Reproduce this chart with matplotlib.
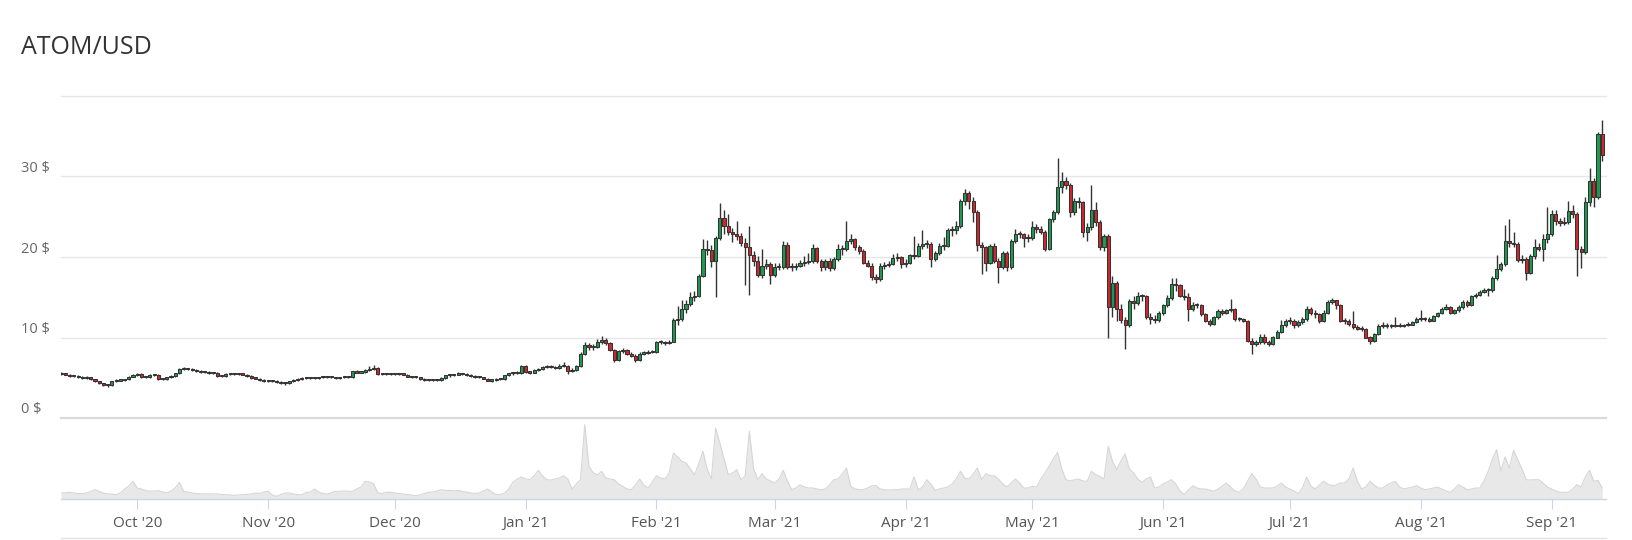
import numpy as np
import pandas as pd
import matplotlib
matplotlib.use("Agg")
import matplotlib.pyplot as plt
import matplotlib.dates as mdates
from matplotlib import transforms
from matplotlib.lines import Line2D

# ---------------- data ----------------
START_DATE = "2020-09-13"

opens = [
    5.60, 5.50, 5.40, 5.20, 5.25, 5.10, 5.00, 5.05, 4.80, 4.55,
    4.30, 4.10, 4.05, 4.55, 4.65, 4.70, 4.80, 5.15, 5.30, 5.50,
    5.10, 5.05, 5.30, 5.35, 4.80, 4.85, 5.05, 5.20, 5.55, 6.10,
    6.15, 6.05, 6.00, 5.85, 5.75, 5.70, 5.60, 5.65, 5.25, 5.20,
    5.45, 5.50, 5.55, 5.45, 5.40, 5.20, 5.00, 4.90, 4.70, 4.60,
    4.65, 4.60, 4.45, 4.35, 4.30, 4.55, 4.75, 4.80, 4.95, 5.00,
    5.05, 5.00, 5.05, 5.10, 5.05, 5.05, 5.00, 5.05, 5.10, 5.05,
    5.80, 5.65, 5.70, 6.00, 6.10, 6.15, 5.50, 5.45, 5.50, 5.45,
    5.55, 5.50, 5.40, 5.15, 5.10, 5.05, 4.85, 4.75, 4.75, 4.70,
    4.75, 5.00, 5.30, 5.30, 5.40, 5.50, 5.45, 5.35, 5.20, 5.10,
    5.05, 4.90, 4.65, 4.70, 4.85, 4.80, 5.30, 5.55, 5.60, 5.65,
    6.50, 5.70, 5.65, 5.95, 6.05, 6.30, 6.45, 6.30, 6.20, 6.45,
    6.50, 5.85, 6.00, 6.40, 8.00, 9.05, 8.80, 8.85, 9.50, 9.70,
    9.30, 8.45, 7.20, 8.30, 8.45, 8.00, 7.70, 7.20, 8.00, 8.10,
    8.20, 8.25, 9.45, 9.40, 9.30, 9.50, 12.15, 12.30, 13.60, 14.20,
    15.00, 15.10, 17.70, 21.00, 20.90, 19.50, 22.40, 24.90, 23.90, 23.10,
    22.80, 22.60, 21.70, 21.20, 20.20, 19.50, 17.80, 18.90, 19.10, 17.80,
    18.70, 18.80, 21.50, 18.80, 18.70, 18.90, 19.30, 19.40, 19.50, 21.10,
    19.50, 18.70, 19.50, 18.60, 19.75, 21.00, 21.00, 22.00, 22.20, 21.20,
    20.80, 19.30, 18.90, 17.50, 17.30, 18.90, 19.00, 19.10, 19.90, 20.00,
    19.10, 19.30, 20.20, 20.10, 21.40, 21.60, 21.60, 19.70, 20.50, 21.40,
    21.40, 23.30, 23.30, 23.90, 27.00, 27.90, 27.00, 25.60, 21.50, 21.20,
    19.30, 21.40, 19.50, 18.70, 20.50, 18.70, 22.00, 22.90, 22.90, 22.30,
    22.40, 23.70, 23.50, 23.05, 21.00, 24.70, 25.60, 28.70, 29.50, 28.90,
    25.60, 27.00, 26.80, 23.05, 23.70, 25.80, 24.30, 21.20, 22.60, 13.85,
    16.80, 13.60, 12.20, 11.50, 14.50, 14.30, 15.20, 15.10, 12.60, 12.30,
    12.20, 13.00, 14.00, 14.90, 16.70, 16.50, 15.20, 15.00, 13.50, 14.00,
    14.00, 12.90, 12.10, 11.70, 12.50, 13.30, 13.10, 13.40, 13.50, 12.30,
    12.30, 12.10, 9.60, 9.20, 9.40, 10.10, 9.40, 9.25, 10.00, 10.70,
    11.50, 12.00, 12.00, 11.50, 11.90, 12.30, 13.50, 13.10, 12.90, 12.10,
    13.10, 14.40, 14.60, 14.00, 12.10, 12.00, 11.70, 11.25, 11.10, 11.10,
    10.00, 9.60, 10.40, 11.40, 11.40, 11.40, 11.45, 11.50, 11.45, 11.50,
    11.60, 11.90, 12.35, 12.30, 12.35, 12.10, 12.65, 13.00, 13.60, 13.80,
    13.10, 13.40, 13.80, 14.45, 14.00, 15.10, 15.30, 15.70, 15.90, 15.90,
    17.40, 18.45, 19.10, 22.00, 21.80, 21.60, 19.60, 19.70, 18.00, 20.10,
    21.20, 21.00, 22.20, 22.90, 25.40, 24.50, 24.20, 24.40, 25.70, 25.30,
    21.00, 20.60, 26.80, 29.40, 27.50, 35.30,
]

highs = [
    5.70, 5.60, 5.50, 5.40, 5.35, 5.20, 5.20, 5.15, 4.90, 4.65,
    4.40, 4.25, 4.65, 4.80, 4.85, 4.90, 5.25, 5.45, 5.65, 5.60,
    5.20, 5.45, 5.50, 5.45, 4.95, 5.15, 5.30, 5.65, 6.20, 6.30,
    6.25, 6.15, 6.10, 5.95, 5.85, 5.80, 5.75, 5.75, 5.35, 5.55,
    5.60, 5.65, 5.65, 5.55, 5.50, 5.30, 5.10, 5.00, 4.80, 4.75,
    4.75, 4.70, 4.55, 4.45, 4.65, 4.85, 4.95, 5.05, 5.10, 5.15,
    5.15, 5.15, 5.20, 5.20, 5.15, 5.15, 5.15, 5.25, 5.20, 5.90,
    5.95, 5.80, 6.10, 6.40, 6.55, 6.30, 5.60, 5.60, 5.60, 5.65,
    5.65, 5.60, 5.50, 5.25, 5.20, 5.15, 4.95, 4.85, 4.85, 4.85,
    5.10, 5.40, 5.45, 5.50, 5.75, 5.60, 5.55, 5.45, 5.30, 5.20,
    5.15, 5.00, 4.80, 4.95, 4.95, 5.40, 5.65, 5.75, 5.80, 6.60,
    6.60, 5.85, 6.05, 6.20, 6.45, 6.60, 6.60, 6.45, 6.65, 6.90,
    6.60, 6.15, 6.55, 8.20, 9.40, 9.30, 9.20, 9.80, 10.20, 9.90,
    9.45, 8.60, 8.50, 8.70, 8.60, 8.20, 7.90, 8.20, 8.30, 8.40,
    8.40, 9.60, 9.70, 9.60, 9.75, 12.40, 13.90, 14.60, 14.70, 15.60,
    15.80, 17.90, 22.20, 22.10, 21.50, 22.60, 26.70, 25.90, 25.40, 23.60,
    24.50, 23.00, 22.30, 23.80, 20.80, 20.10, 21.00, 19.80, 19.40, 19.20,
    19.20, 22.00, 21.90, 19.20, 19.30, 19.60, 20.10, 20.50, 21.60, 21.30,
    19.80, 19.80, 19.90, 20.00, 21.60, 21.50, 24.50, 22.80, 22.40, 21.50,
    21.00, 19.60, 19.30, 17.90, 19.20, 19.40, 19.50, 20.40, 20.50, 20.10,
    19.70, 20.40, 22.60, 21.70, 23.30, 22.10, 21.90, 20.70, 21.70, 22.50,
    23.60, 23.80, 24.50, 27.20, 28.50, 28.20, 27.50, 25.80, 21.90, 21.40,
    21.60, 21.70, 19.90, 20.70, 20.70, 22.20, 23.50, 23.20, 23.00, 22.90,
    24.50, 24.10, 23.80, 23.30, 24.90, 25.90, 32.30, 30.60, 29.90, 29.20,
    27.30, 27.40, 27.00, 24.20, 28.90, 26.80, 24.60, 22.90, 22.80, 17.60,
    17.00, 14.20, 12.50, 14.80, 15.10, 15.60, 15.40, 15.30, 13.00, 12.80,
    13.30, 14.20, 15.30, 17.40, 17.40, 16.70, 16.00, 15.50, 14.40, 14.30,
    14.20, 13.10, 12.30, 12.70, 13.50, 13.60, 13.60, 14.80, 13.70, 12.50,
    12.40, 12.20, 10.00, 9.70, 10.40, 10.40, 9.70, 10.20, 10.90, 12.20,
    12.30, 12.50, 12.30, 12.20, 12.50, 13.90, 13.80, 13.40, 13.10, 13.40,
    14.60, 14.90, 14.70, 14.20, 12.40, 12.30, 13.30, 11.50, 11.40, 11.20,
    10.20, 10.60, 11.70, 11.90, 11.80, 11.70, 12.60, 11.80, 11.70, 11.90,
    12.00, 12.50, 13.40, 12.60, 12.50, 12.80, 13.20, 13.80, 14.10, 13.90,
    13.60, 14.00, 14.60, 14.60, 15.30, 15.50, 15.90, 16.10, 16.20, 17.60,
    20.30, 19.40, 24.00, 24.70, 23.10, 21.90, 20.20, 20.00, 20.40, 22.20,
    21.80, 22.80, 26.20, 25.80, 25.80, 24.80, 25.00, 27.00, 26.50, 25.60,
    21.40, 27.50, 31.00, 29.80, 35.50, 37.00,
]

lows = [
    5.40, 5.30, 5.10, 5.10, 5.00, 4.90, 4.90, 4.70, 4.45, 4.20,
    4.00, 3.90, 4.00, 4.45, 4.55, 4.60, 4.75, 5.05, 5.20, 5.00,
    4.95, 4.95, 5.20, 4.70, 4.70, 4.75, 4.95, 5.10, 5.45, 5.95,
    5.95, 5.90, 5.75, 5.65, 5.60, 5.50, 5.50, 5.15, 5.10, 5.10,
    5.35, 5.40, 5.35, 5.30, 5.10, 4.90, 4.80, 4.60, 4.50, 4.50,
    4.50, 4.35, 4.25, 4.15, 4.25, 4.45, 4.65, 4.70, 4.85, 4.90,
    4.90, 4.90, 4.95, 4.95, 4.95, 4.90, 4.90, 4.95, 4.95, 5.00,
    5.55, 5.55, 5.60, 5.90, 5.95, 5.35, 5.35, 5.35, 5.35, 5.35,
    5.40, 5.30, 5.05, 5.00, 4.95, 4.75, 4.65, 4.65, 4.60, 4.60,
    4.65, 4.90, 5.15, 5.20, 5.30, 5.35, 5.25, 5.10, 5.00, 4.95,
    4.80, 4.55, 4.50, 4.60, 4.70, 4.70, 5.20, 5.40, 5.45, 5.50,
    5.60, 5.50, 5.55, 5.85, 5.95, 6.15, 6.15, 6.05, 6.10, 6.30,
    5.50, 5.75, 5.90, 6.30, 7.80, 8.40, 8.50, 8.70, 9.20, 9.10,
    8.30, 7.00, 7.10, 8.10, 7.80, 7.55, 7.00, 7.10, 7.85, 7.95,
    8.05, 8.10, 9.20, 9.10, 9.15, 9.40, 11.60, 12.00, 13.10, 13.90,
    14.50, 15.00, 17.50, 20.20, 18.80, 15.00, 22.10, 22.90, 22.70, 21.90,
    22.10, 21.40, 16.50, 15.30, 18.90, 17.50, 17.40, 18.50, 16.70, 17.50,
    18.40, 18.50, 18.50, 18.30, 18.40, 18.70, 18.90, 19.10, 19.30, 19.20,
    18.30, 18.40, 18.20, 18.40, 19.50, 20.30, 20.80, 21.60, 20.90, 20.40,
    19.10, 18.70, 17.20, 16.80, 17.00, 18.50, 18.70, 19.00, 19.50, 18.60,
    18.80, 19.10, 19.80, 20.00, 21.00, 21.10, 18.70, 19.50, 20.30, 20.90,
    21.20, 22.60, 22.80, 23.60, 26.50, 26.00, 24.40, 20.70, 17.90, 18.20,
    19.10, 19.20, 16.80, 18.50, 18.20, 18.50, 21.80, 22.30, 21.30, 21.90,
    22.10, 23.00, 22.80, 20.80, 20.90, 24.40, 25.40, 28.00, 28.50, 25.00,
    25.20, 26.10, 22.50, 22.00, 23.30, 23.90, 20.90, 20.80, 9.90, 12.50,
    12.00, 11.80, 8.60, 11.30, 13.60, 14.00, 14.50, 12.30, 11.70, 11.80,
    11.90, 12.80, 13.80, 14.70, 15.80, 15.00, 14.70, 12.10, 13.30, 13.70,
    12.70, 11.90, 11.40, 11.50, 12.30, 12.80, 12.90, 13.20, 12.10, 12.00,
    11.90, 9.40, 8.00, 8.90, 9.20, 9.20, 8.90, 9.10, 9.90, 10.50,
    11.30, 11.70, 11.20, 11.30, 11.70, 12.10, 12.80, 12.40, 11.80, 11.90,
    12.90, 14.10, 13.60, 11.90, 11.70, 11.40, 11.00, 10.90, 10.80, 9.90,
    9.20, 9.40, 10.30, 11.20, 11.20, 11.20, 11.30, 11.30, 11.30, 11.40,
    11.50, 11.80, 12.10, 12.10, 11.90, 12.00, 12.50, 12.90, 13.40, 12.90,
    12.90, 13.20, 13.60, 13.80, 13.90, 14.90, 15.10, 15.50, 15.10, 15.60,
    17.20, 18.20, 18.90, 21.30, 21.20, 19.40, 19.20, 17.20, 17.90, 19.80,
    20.80, 19.50, 21.80, 22.60, 24.00, 23.80, 24.00, 24.10, 24.90, 17.60,
    18.65, 20.40, 26.30, 26.20, 27.20, 31.90,
]

closes = [
    5.50, 5.40, 5.20, 5.25, 5.10, 5.00, 5.05, 4.80, 4.55, 4.30,
    4.10, 4.05, 4.55, 4.65, 4.70, 4.80, 5.15, 5.30, 5.50, 5.10,
    5.05, 5.30, 5.35, 4.80, 4.85, 5.05, 5.20, 5.55, 6.10, 6.15,
    6.05, 6.00, 5.85, 5.75, 5.70, 5.60, 5.65, 5.25, 5.20, 5.45,
    5.50, 5.55, 5.45, 5.40, 5.20, 5.00, 4.90, 4.70, 4.60, 4.65,
    4.60, 4.45, 4.35, 4.30, 4.55, 4.75, 4.80, 4.95, 5.00, 5.05,
    5.00, 5.05, 5.10, 5.05, 5.05, 5.00, 5.05, 5.10, 5.05, 5.80,
    5.65, 5.70, 6.00, 6.10, 6.15, 5.50, 5.45, 5.50, 5.45, 5.55,
    5.50, 5.40, 5.15, 5.10, 5.05, 4.85, 4.75, 4.75, 4.70, 4.75,
    5.00, 5.30, 5.30, 5.40, 5.50, 5.45, 5.35, 5.20, 5.10, 5.05,
    4.90, 4.65, 4.70, 4.85, 4.80, 5.30, 5.55, 5.60, 5.65, 6.50,
    5.70, 5.65, 5.95, 6.05, 6.30, 6.45, 6.30, 6.20, 6.45, 6.50,
    5.85, 6.00, 6.40, 8.00, 9.05, 8.80, 8.85, 9.50, 9.70, 9.30,
    8.45, 7.20, 8.30, 8.45, 8.00, 7.70, 7.20, 8.00, 8.10, 8.20,
    8.25, 9.45, 9.40, 9.30, 9.50, 12.15, 12.30, 13.60, 14.20, 15.00,
    15.10, 17.70, 21.00, 20.90, 19.50, 22.40, 24.90, 23.90, 23.10, 22.80,
    22.60, 21.70, 21.20, 20.20, 19.50, 17.80, 18.90, 19.10, 17.80, 18.70,
    18.80, 21.50, 18.80, 18.70, 18.90, 19.30, 19.40, 19.50, 21.10, 19.50,
    18.70, 19.50, 18.60, 19.75, 21.00, 21.00, 22.00, 22.20, 21.20, 20.80,
    19.30, 18.90, 17.50, 17.30, 18.90, 19.00, 19.10, 19.90, 20.00, 19.10,
    19.30, 20.20, 20.10, 21.40, 21.60, 21.60, 19.70, 20.50, 21.40, 21.40,
    23.30, 23.30, 23.90, 27.00, 27.90, 27.00, 25.60, 21.50, 21.20, 19.30,
    21.40, 19.50, 18.70, 20.50, 18.70, 22.00, 22.90, 22.90, 22.30, 22.40,
    23.70, 23.50, 23.05, 21.00, 24.70, 25.60, 28.70, 29.50, 28.90, 25.60,
    27.00, 26.80, 23.05, 23.70, 25.80, 24.30, 21.20, 22.60, 13.85, 16.80,
    13.60, 12.20, 11.50, 14.50, 14.30, 15.20, 15.10, 12.60, 12.30, 12.20,
    13.00, 14.00, 14.90, 16.70, 16.50, 15.20, 15.00, 13.50, 14.00, 14.00,
    12.90, 12.10, 11.70, 12.50, 13.30, 13.10, 13.40, 13.50, 12.30, 12.30,
    12.10, 9.60, 9.20, 9.40, 10.10, 9.40, 9.25, 10.00, 10.70, 11.50,
    12.00, 12.00, 11.50, 11.90, 12.30, 13.50, 13.10, 12.90, 12.10, 13.10,
    14.40, 14.60, 14.00, 12.10, 12.00, 11.70, 11.25, 11.10, 11.10, 10.00,
    9.60, 10.40, 11.40, 11.40, 11.40, 11.45, 11.50, 11.45, 11.50, 11.60,
    11.90, 12.35, 12.30, 12.35, 12.10, 12.65, 13.00, 13.60, 13.80, 13.10,
    13.40, 13.80, 14.45, 14.00, 15.10, 15.30, 15.70, 15.90, 15.90, 17.40,
    18.45, 19.10, 22.00, 21.80, 21.60, 19.60, 19.70, 18.00, 20.10, 21.20,
    21.00, 22.20, 22.90, 25.40, 24.50, 24.20, 24.40, 25.70, 25.30, 21.00,
    20.60, 26.80, 29.40, 27.50, 35.30, 32.70,
]

# traded volume (relative units)
volumes = [
    60, 62, 67, 60, 55, 53, 60, 75, 93, 75,
    60, 52, 48, 43, 60, 100, 130, 177, 110, 100,
    85, 77, 80, 83, 70, 60, 80, 110, 167, 77,
    70, 60, 55, 53, 50, 52, 50, 50, 45, 42,
    40, 37, 40, 43, 45, 50, 60, 55, 70, 77,
    40, 27, 45, 60, 60, 50, 43, 43, 65, 70,
    100, 70, 55, 50, 65, 77, 77, 80, 77, 77,
    100, 120, 177, 170, 153, 60, 55, 67, 67, 60,
    55, 50, 45, 40, 33, 40, 55, 67, 70, 80,
    93, 85, 87, 80, 87, 75, 70, 60, 55, 60,
    80, 100, 70, 43, 45, 60, 100, 167, 200, 220,
    200, 193, 230, 287, 230, 193, 190, 200, 210, 233,
    200, 100, 150, 193, 743, 327, 260, 240, 277, 210,
    200, 193, 150, 127, 100, 93, 140, 200, 140, 110,
    170, 233, 210, 200, 260, 460, 420, 377, 360, 300,
    243, 350, 477, 300, 200, 710, 560, 400, 243, 260,
    293, 193, 230, 677, 300, 193, 253, 200, 180, 160,
    200, 287, 180, 93, 110, 143, 120, 110, 110, 100,
    93, 100, 140, 193, 200, 250, 310, 127, 100, 93,
    93, 110, 133, 133, 100, 93, 90, 93, 93, 100,
    100, 100, 220, 93, 120, 193, 150, 87, 100, 110,
    120, 150, 200, 277, 210, 200, 250, 310, 193, 253,
    233, 233, 200, 150, 120, 160, 200, 160, 110, 110,
    127, 120, 200, 260, 330, 400, 467, 300, 193, 180,
    193, 200, 180, 177, 277, 243, 227, 200, 527, 377,
    293, 380, 453, 300, 260, 200, 167, 200, 220, 110,
    120, 150, 170, 193, 150, 80, 43, 90, 133, 110,
    100, 100, 90, 77, 100, 130, 160, 120, 80, 67,
    100, 180, 253, 200, 120, 110, 110, 110, 130, 160,
    120, 100, 80, 53, 110, 220, 130, 100, 140, 177,
    150, 133, 140, 160, 160, 200, 310, 180, 100, 120,
    177, 140, 110, 110, 140, 160, 177, 120, 100, 110,
    120, 133, 110, 93, 100, 110, 120, 100, 80, 67,
    100, 143, 120, 93, 100, 110, 110, 180, 277, 400,
    493, 277, 420, 310, 487, 393, 300, 193, 190, 193,
    193, 160, 120, 100, 80, 67, 67, 67, 100, 143,
    120, 220, 287, 177, 187, 110,
]

price_ticks = [0, 10, 20, 30, 40]
price_labels = ["0 $", "10 $", "20 $", "30 $", ""]
month_ticks = ["2020-10-01", "2020-11-01", "2020-12-01", "2021-01-01",
               "2021-02-01", "2021-03-01", "2021-04-01", "2021-05-01",
               "2021-06-01", "2021-07-01", "2021-08-01", "2021-09-01"]
month_labels = ["Oct '20", "Nov '20", "Dec '20", "Jan '21", "Feb '21", "Mar '21",
                "Apr '21", "May '21", "Jun '21", "Jul '21", "Aug '21", "Sep '21"]
title = "ATOM/USD"

# ---------------- figure ----------------
plt.rcParams["font.family"] = ["Open Sans", "DejaVu Sans"]
W, H = 1632, 540
fig = plt.figure(figsize=(W / 100, H / 100), dpi=100)
fig.patch.set_facecolor("white")

def fx(px):
    return px / W

def fy(py):
    return 1 - py / H

L, R = 61, 1606
P_TOP, P_BOT = 96, 418
V_TOP, V_BOT = 419, 499

ax = fig.add_axes([fx(L), fy(P_BOT), (R - L) / W, (P_BOT - P_TOP) / H])
axv = fig.add_axes([fx(L), fy(V_BOT), (R - L) / W, (V_BOT - V_TOP) / H])

dates = mdates.date2num(pd.date_range(START_DATE, periods=len(closes), freq="D"))
o = np.array(opens); h = np.array(highs); l = np.array(lows); c = np.array(closes)
v = np.array(volumes)

xlim = (dates[0] - 0.05, dates[-1] + 0.9)

# price pane
for t in price_ticks:
    if t == 0:
        ax.axhline(t, color="#dadada", lw=1.6, zorder=0, clip_on=False)
    else:
        ax.axhline(t, color="#e6e6e6", lw=1.0, zorder=0, clip_on=False)

up = c >= o
colors = np.where(up, "#1e9b4f", "#d4262b")
ax.vlines(dates, l, h, color="#333333", lw=1.0, zorder=2)
body_bottom = np.minimum(o, c)
body_height = np.maximum(np.abs(c - o), 0.14)
ax.bar(dates, body_height, bottom=body_bottom, width=0.74, color=colors,
       edgecolor="#333333", linewidth=0.75, zorder=3)

ax.set_xlim(*xlim)
ax.set_ylim(0, 40)
ax.axis("off")

# y labels: left, just above each gridline
trans = transforms.blended_transform_factory(fig.transFigure, ax.transData)
trans = transforms.offset_copy(trans, fig=fig, x=0, y=8, units="dots")
for t, lab in zip(price_ticks, price_labels):
    if lab:
        ax.text(fx(21), t, lab, transform=trans, ha="left", va="center",
                fontsize=10.5, color="#666666", clip_on=False)

# volume pane
axv.fill_between(dates, v, 0, color="#e8e8e8", lw=0, zorder=1)
axv.plot(dates, v, color="#d6d6d6", lw=0.8, zorder=2)
axv.set_xlim(*xlim)
axv.set_ylim(0, 800)
for s in ["top", "left", "right"]:
    axv.spines[s].set_visible(False)
axv.spines["bottom"].set_color("#ccd6eb")
axv.spines["bottom"].set_linewidth(1.0)
axv.set_yticks([])
axv.set_xticks(mdates.date2num(pd.to_datetime(month_ticks)))
axv.set_xticklabels(month_labels)
axv.tick_params(axis="x", direction="out", length=7.2, width=0.8, color="#ccd6eb",
                labelcolor="#555555", labelsize=11, pad=5)
axv.patch.set_alpha(0)

# title
fig.text(fx(21), fy(47), title, ha="left", va="center", fontsize=18, color="#333333")

# bottom faint line
fig.add_artist(Line2D([fx(L), fx(R)], [fy(538), fy(538)], color="#e3e3e3", lw=1.0,
                      transform=fig.transFigure))

fig.savefig("out.png", dpi=100, facecolor="white")
